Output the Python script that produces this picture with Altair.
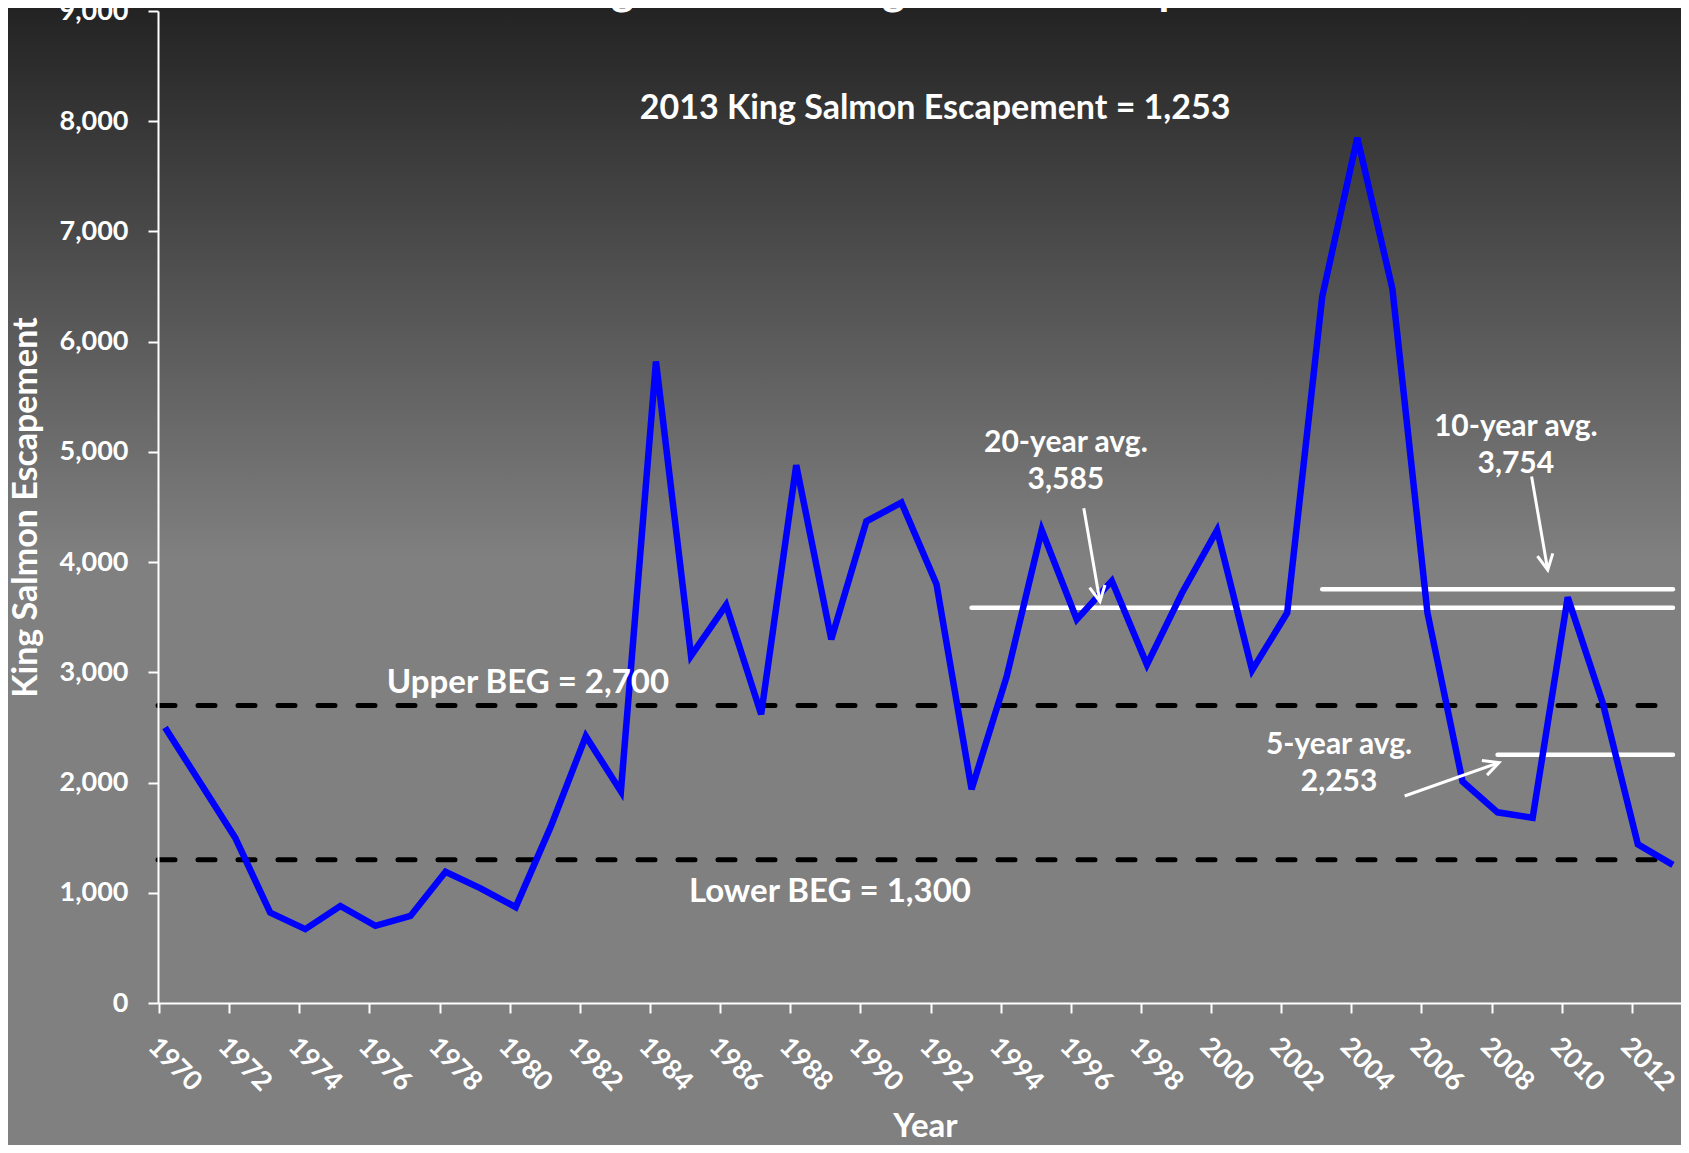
import math
import altair as alt
import pandas as pd

# ---------------- data ----------------
years = list(range(1970, 2014))
escapement = [2500, 2000, 1500, 820, 670, 880, 700, 790, 1190, 1040,
              870, 1600, 2420, 1920, 5820, 3150, 3610, 2620, 4880, 3300,
              4370, 4540, 3800, 1940, 2960, 4290, 3480, 3830, 3070, 3720,
              4290, 3020, 3540, 6410, 7850, 6480, 3540, 2010, 1730, 1680,
              3680, 2720, 1440, 1253]

tick_years = list(range(1970, 2013, 2))
y_ticks = list(range(0, 9001, 1000))

beg_labels = ["Upper BEG = 2,700", "Lower BEG = 1,300"]
beg_values = [2700, 1300]

avg_labels = ["20-year avg.\n3,585", "10-year avg.\n3,754", "5-year avg.\n2,253"]
avg_values = [3585, 3754, 2253]
avg_start = [1993, 2003, 2008]
avg_end = 2013

title_text = "Chignik River King Salmon Escapement"
note_text = "2013 King Salmon Escapement = 1,253"

# ---------------- layout ----------------
X_MIN, X_MAX = 1969.8, 2013.23
Y_MIN, Y_MAX = 0, 9000
W, H = 1523, 992
PAD = {"left": 150, "top": 3, "right": 0, "bottom": 142}
FONT = "Lato"
WHITE = "#ffffff"

xs = alt.Scale(domain=[X_MIN, X_MAX], nice=False, zero=False)
ys = alt.Scale(domain=[Y_MIN, Y_MAX], nice=False)

# annotation anchor points (data space)
beg_label_x = [1980.35, 1988.96]
beg_label_y = [2904, 1007]
avg_label_x = [1995.69, 2008.52, 2003.48]
avg_label_y = [5082, 5227, 2341]
arrow_tail_x = [1996.20, 2008.97, 2005.35]
arrow_tail_y = [4489, 4776, 1878]
arrow_tip_x = [1996.66, 2009.43, 2008.04]
arrow_tip_y = [3642, 3929, 2181]
note_x, note_y = 1991.96, 8113

# ---------------- background ----------------
bg = alt.Chart(pd.DataFrame({"a": [0]})).mark_rect(
    fill=alt.Gradient(
        gradient="linear", x1=0, y1=0, x2=0, y2=1,
        stops=[alt.GradientStop(offset=0, color="#232323"),
               alt.GradientStop(offset=0.485, color="#808080"),
               alt.GradientStop(offset=1, color="#808080")]),
    strokeWidth=0,
).encode(
    x=alt.value(-PAD["left"]), x2=alt.value(W + PAD["right"]),
    y=alt.value(-PAD["top"]), y2=alt.value(H + PAD["bottom"]),
)

df = pd.DataFrame({"year": years, "esc": escapement})

x_axis = alt.Axis(
    values=tick_years, format="d", labelAngle=45, labelAlign="left",
    labelBaseline="top", labelFont=FONT, labelFontSize=27, labelFontWeight="bold",
    labelColor=WHITE, labelPadding=20, labelFlush=False, labelOverlap=False,
    tickColor=WHITE, tickSize=10, tickWidth=2, tickOffset=-6, labelOffset=2,
    domainColor=WHITE, domainWidth=2, grid=False, zindex=1,
    title="Year", titleX=767, titleY=123, titleAlign="center", titleBaseline="middle",
    titleFont=FONT, titleFontSize=33, titleFontWeight="bold", titleColor=WHITE,
)
y_axis = alt.Axis(
    values=y_ticks, format=",.0f", labelFont=FONT, labelFontSize=27,
    labelFontWeight="bold", labelColor=WHITE, labelPadding=20,
    tickColor=WHITE, tickSize=10, tickWidth=2, domainColor=WHITE, domainWidth=2,
    grid=False, zindex=1, title="King Salmon Escapement", titleAngle=270,
    titleX=-132, titleY=H / 2, titleAlign="center", titleBaseline="middle",
    titleFont=FONT, titleFontSize=34, titleFontWeight="bold", titleColor=WHITE,
)

line = alt.Chart(df).mark_line(color="#0000ff", strokeWidth=6.5, strokeJoin="miter").encode(
    x=alt.X("year:Q", scale=xs, axis=x_axis),
    y=alt.Y("esc:Q", scale=ys, axis=y_axis),
)

beg_df = pd.DataFrame({"v": beg_values, "x0": [X_MIN] * 2, "x1": [avg_end] * 2,
                       "lab": beg_labels, "lx": beg_label_x, "ly": beg_label_y})
beg_rules = alt.Chart(beg_df).mark_rule(
    color="black", strokeWidth=5, strokeDash=[17, 23], strokeCap="round"
).encode(x=alt.X("x0:Q", scale=xs), x2="x1:Q", y=alt.Y("v:Q", scale=ys))

beg_text = alt.Chart(beg_df).mark_text(
    font=FONT, fontSize=33, fontWeight="bold", color=WHITE, align="center", baseline="middle"
).encode(x=alt.X("lx:Q", scale=xs), y=alt.Y("ly:Q", scale=ys), text="lab:N")

avg_df = pd.DataFrame({"v": avg_values, "x0": avg_start, "x1": [avg_end] * 3,
                       "lab": avg_labels, "lx": avg_label_x, "ly": avg_label_y})
avg_rules = alt.Chart(avg_df).mark_rule(
    color=WHITE, strokeWidth=4.5, strokeCap="round"
).encode(x=alt.X("x0:Q", scale=xs), x2="x1:Q", y=alt.Y("v:Q", scale=ys))

avg_text = alt.Chart(avg_df).mark_text(
    font=FONT, fontSize=30, fontWeight="bold", color=WHITE, align="center",
    baseline="middle", lineBreak="\n", lineHeight=37
).encode(x=alt.X("lx:Q", scale=xs), y=alt.Y("ly:Q", scale=ys), text="lab:N")

# arrows
px_year = W / (X_MAX - X_MIN)
px_unit = H / (Y_MAX - Y_MIN)
angles = []
for tx, ty, hx, hy in zip(arrow_tail_x, arrow_tail_y, arrow_tip_x, arrow_tip_y):
    dx = (hx - tx) * px_year
    dy = -(hy - ty) * px_unit
    angles.append(math.degrees(math.atan2(dx, -dy)) % 360)
arr_df = pd.DataFrame({"tx": arrow_tail_x, "ty": arrow_tail_y,
                       "hx": arrow_tip_x, "hy": arrow_tip_y, "ang": angles})
arr_shaft = alt.Chart(arr_df).mark_rule(color=WHITE, strokeWidth=3).encode(
    x=alt.X("tx:Q", scale=xs), x2="hx:Q", y=alt.Y("ty:Q", scale=ys), y2="hy:Q")
arr_head = alt.Chart(arr_df).mark_point(
    shape="M-0.45,0.89L0,0L0.45,0.89", filled=False, stroke=WHITE,
    strokeWidth=3, size=1200, opacity=1
).encode(x=alt.X("hx:Q", scale=xs), y=alt.Y("hy:Q", scale=ys),
         angle=alt.Angle("ang:Q", scale=None))

note = alt.Chart(pd.DataFrame({"x": [note_x], "y": [note_y], "t": [note_text]})).mark_text(
    font=FONT, fontSize=34, fontWeight="bold", color=WHITE, align="center", baseline="middle"
).encode(x=alt.X("x:Q", scale=xs), y=alt.Y("y:Q", scale=ys), text="t:N")

title = alt.Chart(pd.DataFrame({"t": [title_text]})).mark_text(
    font=FONT, fontSize=44, fontWeight="bold", color=WHITE, align="center",
    baseline="alphabetic"
).encode(x=alt.value(769), y=alt.value(-6), text="t:N")

chart = alt.layer(
    bg, beg_rules, avg_rules, line, arr_shaft, arr_head, beg_text, avg_text, note, title
).properties(
    width=W, height=H, padding=PAD,
    autosize=alt.AutoSizeParams(type="none"),
    background="#808080",
).configure_view(stroke=None)

chart.save("out.html", embed_options={"renderer": "svg", "actions": False})
